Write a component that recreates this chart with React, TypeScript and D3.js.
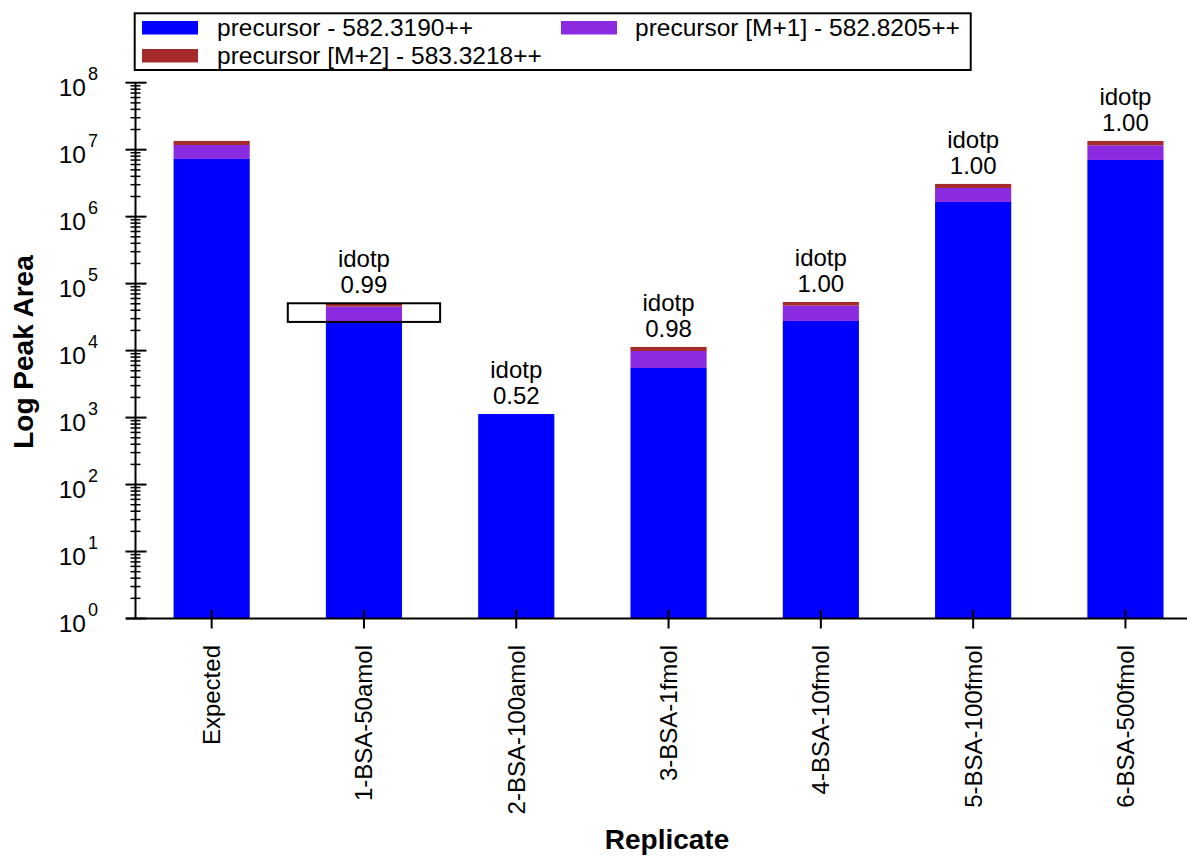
import React from "react";
import * as d3 from "d3";

const categories = [
  "Expected",
  "1-BSA-50amol",
  "2-BSA-100amol",
  "3-BSA-1fmol",
  "4-BSA-10fmol",
  "5-BSA-100fmol",
  "6-BSA-500fmol",
];
const precursor = [7270000, 26800, 1130, 5500, 27700, 1656000, 7020000];
const precursorM1 = [4480000, 18500, 0, 4370, 19200, 1024000, 4620000];
const precursorM2 = [1750000, 5600, 0, 1460, 6300, 400000, 1860000];
const idotp = [null, "0.99", "0.52", "0.98", "1.00", "1.00", "1.00"];
const seriesNames = [
  "precursor - 582.3190++",
  "precursor [M+1] - 582.8205++",
  "precursor [M+2] - 583.3218++",
];
const seriesColors = ["#0000ff", "#8a2be2", "#a52a2a"];
const yTickExponents = [0, 1, 2, 3, 4, 5, 6, 7, 8];
const selectedIndex = 1;

const W = 1187;
const H = 858;
const FONT = "'Liberation Sans', Arial, sans-serif";

export default function App() {
  const keys = ["p0", "p1", "p2"];
  const rows = categories.map((c, i) => ({
    cat: c,
    p0: precursor[i],
    p1: precursorM1[i],
    p2: precursorM2[i],
  }));
  const stacked = d3.stack<any>().keys(keys)(rows);

  const x = d3
    .scaleBand<string>()
    .domain(categories)
    .range([135.5, 135.5 + 7 * 152.3])
    .paddingInner(0.5)
    .paddingOuter(0.25);
  const y = d3.scaleLog().domain([1, 1e8]).range([618.5, 82.7]);
  const axisX = 135.5;
  const axisY = 618.5;

  const minorTicks: number[] = [];
  for (let e = 0; e < 8; e++) {
    for (let m = 2; m <= 9; m++) minorTicks.push(m * Math.pow(10, e));
  }

  const totals = rows.map((r) => r.p0 + r.p1 + r.p2);
  const bw = x.bandwidth();
  const step = x.step();

  return (
    <svg
      width={W}
      height={H}
      style={{ position: "absolute", left: 0, top: 0, background: "#fff" }}
      fontFamily={FONT}
    >
      {/* bars */}
      {stacked.map((s, si) => (
        <g key={si} fill={seriesColors[si]}>
          {s.map((d, i) => {
            if (d[1] - d[0] <= 0) return null;
            const y0 = y(Math.max(d[0], 1));
            const y1 = y(d[1]);
            return (
              <rect
                key={i}
                x={x(categories[i])}
                y={y1}
                width={bw}
                height={y0 - y1}
              />
            );
          })}
        </g>
      ))}

      {/* selection box */}
      <rect
        x={(x(categories[selectedIndex]) as number) + bw / 2 - step / 2}
        y={y(totals[selectedIndex])}
        width={step}
        height={y(precursor[selectedIndex]) - y(totals[selectedIndex])}
        fill="none"
        stroke="#000"
        strokeWidth={2}
      />

      {/* idotp labels */}
      {idotp.map((v, i) => {
        if (!v) return null;
        const cx = (x(categories[i]) as number) + bw / 2;
        const top = y(totals[i]);
        return (
          <g key={i} fontSize={24} textAnchor="middle" fill="#000">
            <text x={cx} y={top - 36}>idotp</text>
            <text x={cx} y={top - 10}>{v}</text>
          </g>
        );
      })}

      {/* y axis */}
      <line x1={axisX} x2={axisX} y1={y(1e8)} y2={axisY} stroke="#000" strokeWidth={2} />
      {minorTicks.map((t, i) => (
        <line
          key={i}
          x1={axisX - 5}
          x2={axisX + 5}
          y1={y(t)}
          y2={y(t)}
          stroke="#000"
          strokeWidth={1.5}
        />
      ))}
      {yTickExponents.map((e) => {
        const ty = y(Math.pow(10, e));
        return (
          <g key={e}>
            <line x1={axisX - 10} x2={axisX + 11} y1={ty} y2={ty} stroke="#000" strokeWidth={2} />
            <text x={86} y={ty + 13} fontSize={24.5} textAnchor="end" fill="#000">
              10
            </text>
            <text x={88} y={ty - 3} fontSize={18} textAnchor="start" fill="#000">
              {e}
            </text>
          </g>
        );
      })}

      {/* x axis */}
      <line x1={126} x2={W} y1={axisY} y2={axisY} stroke="#000" strokeWidth={2} />
      {categories.map((c) => {
        const cx = (x(c) as number) + bw / 2;
        return (
          <g key={c}>
            <line x1={cx} x2={cx} y1={axisY - 9} y2={axisY + 10} stroke="#000" strokeWidth={2} />
            <text
              transform={`translate(${cx + 8.5},${645}) rotate(-90)`}
              fontSize={24}
              textAnchor="end"
              fill="#000"
            >
              {c}
            </text>
          </g>
        );
      })}

      {/* axis titles */}
      <text
        transform={`translate(33,352) rotate(-90)`}
        fontSize={28}
        fontWeight="bold"
        textAnchor="middle"
        fill="#000"
      >
        Log Peak Area
      </text>
      <text x={667} y={849} fontSize={28} fontWeight="bold" textAnchor="middle" fill="#000">
        Replicate
      </text>

      {/* legend */}
      <rect x={134.7} y={13.3} width={836} height={56.7} fill="#fff" stroke="#000" strokeWidth={2} />
      {seriesNames.map((n, i) => {
        const col = i === 1 ? 1 : 0;
        const row = i === 2 ? 1 : 0;
        const sx = col === 0 ? 142 : 561;
        const tx = col === 0 ? 217 : 635;
        const sy = row === 0 ? 21 : 49;
        return (
          <g key={n}>
            <rect x={sx} y={sy} width={56} height={13.5} fill={seriesColors[i]} />
            <text x={tx} y={sy + 15} fontSize={24.5} fill="#000">
              {n}
            </text>
          </g>
        );
      })}
    </svg>
  );
}
